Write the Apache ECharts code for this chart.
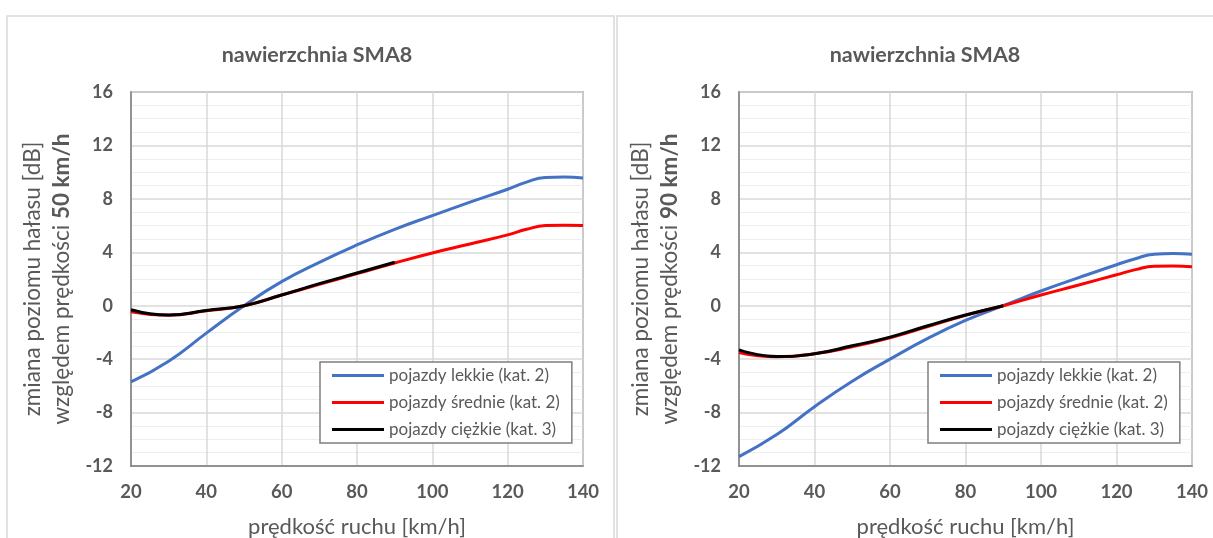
<!DOCTYPE html>
<html>
<head>
<meta charset="utf-8">
<script src="https://cdn.jsdelivr.net/npm/echarts@6/dist/echarts.min.js"></script>
<style>
html,body{margin:0;padding:0;background:#fff;}
#chart{width:1213px;height:538px;}
</style>
</head>
<body>
<div id="chart"></div>
<script>
// ---- data ----
const chartTitle = 'nawierzchnia SMA8';
const seriesNames = ['pojazdy lekkie (kat. 2)', 'pojazdy średnie (kat. 2)', 'pojazdy ciężkie (kat. 3)'];
const speeds = [20, 30, 40, 50, 60, 70, 80, 90, 100, 110, 120, 125, 130, 135, 140];
const heavySpeeds = [20, 30, 40, 50, 60, 70, 80, 90];
const xTicks = [20, 40, 60, 80, 100, 120, 140];
const yTicks = [-12, -8, -4, 0, 4, 8, 12, 16];

// relative to 50 km/h
const light50 = [-5.7, -4.15, -2.05, 0, 1.8, 3.25, 4.55, 5.72, 6.75, 7.75, 8.72, 9.25, 9.6, 9.63, 9.57];
const medium50 = [-0.45, -0.72, -0.38, 0, 0.8, 1.6, 2.4, 3.2, 3.95, 4.62, 5.3, 5.72, 6.0, 6.03, 6.0];
const heavy50 = [-0.3, -0.7, -0.35, 0, 0.8, 1.65, 2.45, 3.25];

// relative to 90 km/h
const light90 = [-11.3, -9.65, -7.56, -5.65, -4.0, -2.45, -1.1, 0, 1.1, 2.1, 3.07, 3.52, 3.86, 3.9, 3.85];
const medium90 = [-3.5, -3.82, -3.6, -3.07, -2.4, -1.57, -0.72, 0, 0.8, 1.55, 2.32, 2.7, 2.96, 2.98, 2.92];
const heavy90 = [-3.3, -3.8, -3.6, -3.0, -2.35, -1.5, -0.7, 0];

const colors = ['#4472C4', '#FF0000', '#000000'];
const txt = '#595959';
const FONT = 'Lato';

function pairs(xs, ys) { return xs.map((x, i) => [x, ys[i]]); }

function xAxis(idx) {
  return {
    type: 'value', gridIndex: idx, min: xTicks[0], max: xTicks[xTicks.length - 1], interval: 20,
    name: 'prędkość ruchu [km/h]', nameLocation: 'middle', nameGap: 50,
    nameTextStyle: { color: txt, fontSize: 22, fontFamily: FONT },
    axisLine: { show: true, onZero: false, lineStyle: { color: '#7f7f7f', width: 1.5 } },
    axisTick: { show: false },
    axisLabel: { color: txt, fontSize: 18.5, fontWeight: 'bold', fontFamily: FONT, margin: 17 },
    splitLine: { show: true, lineStyle: { color: '#d9d9d9', width: 1.5 } }
  };
}
function yAxis(idx, ref) {
  return {
    type: 'value', gridIndex: idx, min: yTicks[0], max: yTicks[yTicks.length - 1], interval: 4,
    name: '{a|zmiana poziomu hałasu [dB]}\n{a|względem prędkości }{b|' + ref + ' km/h}',
    nameLocation: 'middle', nameGap: 55, nameRotate: 90,
    nameTextStyle: {
      color: txt, fontSize: 22.5, fontFamily: FONT, lineHeight: 29,
      rich: {
        a: { color: txt, fontSize: 22.5, fontFamily: FONT, lineHeight: 29 },
        b: { color: txt, fontSize: 22.5, fontFamily: FONT, fontWeight: 'bold', lineHeight: 29 }
      }
    },
    axisLine: { show: true, onZero: false, lineStyle: { color: '#7f7f7f', width: 1.5 } },
    axisTick: { show: false },
    axisLabel: { color: txt, fontSize: 18, fontWeight: 'bold', fontFamily: FONT, margin: 18 },
    splitLine: { show: true, lineStyle: { color: '#d9d9d9', width: 1.5 } },
    minorTick: { show: false, splitNumber: 4 },
    minorSplitLine: { show: true, lineStyle: { color: '#eeeeee', width: 1 } }
  };
}
function line(name, data, idx, color, z) {
  return {
    name: name, type: 'line', xAxisIndex: idx, yAxisIndex: idx, data: data,
    smooth: 0.5, showSymbol: false, symbol: 'none', z: z,
    lineStyle: { color: color, width: 3 }, itemStyle: { color: color }
  };
}
function legend(left, top) {
  return {
    left: left, top: top, orient: 'vertical', data: seriesNames, selectedMode: false,
    icon: 'rect', itemWidth: 52, itemHeight: 3, itemGap: 10, itemTextGap: 6,
    padding: [5, 12, 5, 12], borderColor: '#7f7f7f', borderWidth: 1.5, backgroundColor: '#fff',
    textStyle: { color: txt, fontSize: 17, fontFamily: FONT }
  };
}

const chart = echarts.init(document.getElementById('chart'), null, { renderer: 'canvas' });
chart.setOption({
  backgroundColor: '#fff',
  animation: false,
  graphic: [
    { type: 'rect', shape: { x: 7, y: 16, width: 607, height: 540 }, style: { fill: 'none', stroke: '#d9d9d9', lineWidth: 1.5 }, z: -10 },
    { type: 'rect', shape: { x: 617, y: 16, width: 620, height: 540 }, style: { fill: 'none', stroke: '#d9d9d9', lineWidth: 1.5 }, z: -10 }
  ],
  title: [
    { text: chartTitle, left: 312, top: 39, textAlign: 'center', textStyle: { color: txt, fontSize: 21.5, fontWeight: 'bold', fontFamily: FONT } },
    { text: chartTitle, left: 920, top: 39, textAlign: 'center', textStyle: { color: txt, fontSize: 21.5, fontWeight: 'bold', fontFamily: FONT } }
  ],
  legend: [legend(320, 362), legend(928, 362)],
  grid: [
    { left: 131, top: 92, width: 452, height: 374, outerBoundsMode: 'none', containLabel: false, show: true, borderColor: '#7f7f7f', borderWidth: 1.5, backgroundColor: '#fff' },
    { left: 739, top: 92, width: 453, height: 374, outerBoundsMode: 'none', containLabel: false, show: true, borderColor: '#7f7f7f', borderWidth: 1.5, backgroundColor: '#fff' }
  ],
  xAxis: [xAxis(0), xAxis(1)],
  yAxis: [yAxis(0, 50), yAxis(1, 90)],
  series: [
    line(seriesNames[0], pairs(speeds, light50), 0, colors[0], 2),
    line(seriesNames[1], pairs(speeds, medium50), 0, colors[1], 3),
    line(seriesNames[2], pairs(heavySpeeds, heavy50), 0, colors[2], 4),
    line(seriesNames[0], pairs(speeds, light90), 1, colors[0], 2),
    line(seriesNames[1], pairs(speeds, medium90), 1, colors[1], 3),
    line(seriesNames[2], pairs(heavySpeeds, heavy90), 1, colors[2], 4)
  ]
});
</script>
</body>
</html>
